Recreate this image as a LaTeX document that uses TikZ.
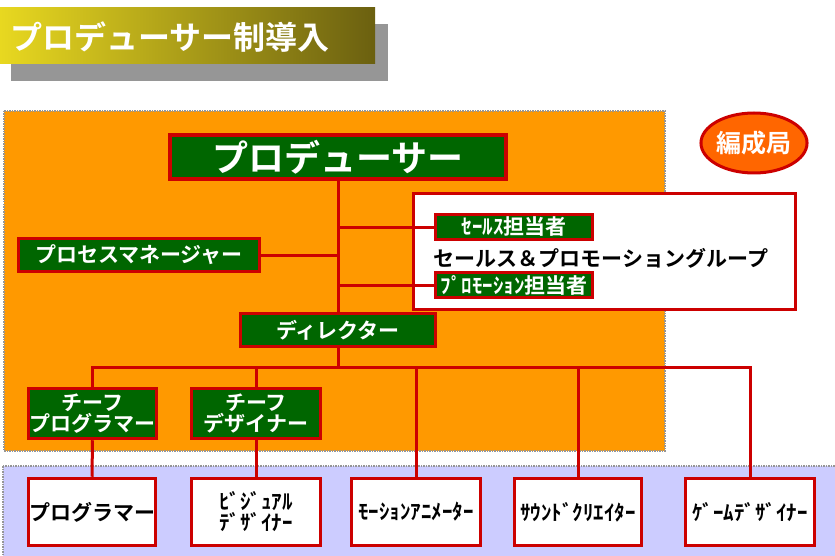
\documentclass[tikz,border=0pt]{standalone}
\usepackage{fontspec}
\setmainfont{Noto Sans CJK JP}[BoldFont={Noto Sans CJK JP Bold}]
\usetikzlibrary{shapes.geometric}
\definecolor{bgorange}{HTML}{FF9900}
\definecolor{bglilac}{HTML}{CCCCFF}
\definecolor{boxgreen}{HTML}{006600}
\definecolor{linered}{HTML}{CC0000}
\definecolor{ovalorange}{HTML}{FF6600}
\definecolor{shadowgray}{HTML}{969696}
\definecolor{titleyellow}{HTML}{E8D820}
\definecolor{titleolive}{HTML}{6B6010}
\newcommand{\fsz}[1]{\bfseries\fontsize{#1}{#1}\selectfont}

\begin{document}
\begin{tikzpicture}[x=1pt, y=-1pt,
    greenbox/.style={draw=linered, line width=3.5pt, fill=boxgreen, text=white,
      inner sep=0pt, align=center, font=\fsz{21}},
    whitebox/.style={draw=linered, line width=3.5pt, fill=white, text=black,
      inner sep=0pt, align=center, font=\fsz{21}},
    link/.style={draw=linered, line width=3pt},
    region/.style={draw=shadowgray, densely dotted, line width=1.5pt}]
  \useasboundingbox (0,0) rectangle (835,556);
  \clip (0,0) rectangle (835,556);
  %tikz  areas
  \fill[bgorange] (4,111) rectangle (665,451);
  \draw[region] (4,111) rectangle (665,451);
  \fill[bglilac] (3,466) rectangle (845,566);
  \draw[region] (3,466) rectangle (845,566);
  % title
  \fill[shadowgray] (11,24) rectangle (388,81);
  \shade[left color=titleyellow, right color=titleolive] (0,8) rectangle (375,64);
  \node[anchor=west, text=white, font=\fsz{32}, inner sep=0pt] (title) at (10,37) {プロデューサー制導入};
  \node[ellipse, draw=linered, line width=3pt, fill=ovalorange, text=white,
    minimum width=102, minimum height=60, inner sep=0pt, font=\fsz{25}] (bureau) at (754,143) {編成局};
  % upper part
  \node[greenbox, line width=4pt, minimum width=336, minimum height=44, font=\fsz{36}] (prod) at (338,157) {プロデューサー};
  \node[greenbox, minimum width=241, minimum height=33] (pm) at (139,255) {プロセスマネージャー};
  \node[whitebox, line width=3pt, minimum width=382, minimum height=116] (group) at (604.5,251.5) {};
  \node[greenbox, minimum width=157, minimum height=25] (sales) at (514,227) {ｾｰﾙｽ担当者};
  \node[font=\fsz{21}, inner sep=0pt] (grouptext) at (601,258) {セールス＆プロモーショングループ};
  \node[greenbox, minimum width=157, minimum height=25] (promo) at (514,285) {ﾌﾟﾛﾓｰｼｮﾝ担当者};
  \node[greenbox, minimum width=195, minimum height=33] (dir) at (338,330) {ディレクター};
  \node[greenbox, minimum width=128, minimum height=50] (cprog) at (92.5,413.5) {チーフ\\プログラマー};
  \node[greenbox, minimum width=129, minimum height=50] (cdes) at (256,413.5) {チーフ\\デザイナー};
  % lower part
  \node[whitebox, minimum width=127, minimum height=67] (prog) at (92,512) {プログラマー};
  \node[whitebox, minimum width=129, minimum height=67] (vis) at (256,512) {ﾋﾞｼﾞｭｱﾙ\\ﾃﾞｻﾞｲﾅｰ};
  \node[whitebox, minimum width=129, minimum height=67] (motion) at (416,512) {ﾓｰｼｮﾝｱﾆﾒｰﾀｰ};
  \node[whitebox, minimum width=127, minimum height=67] (sound) at (578,512) {ｻｳﾝﾄﾞｸﾘｴｲﾀｰ};
  \node[whitebox, minimum width=129, minimum height=67] (game) at (750,512) {ｹﾞｰﾑﾃﾞｻﾞｲﾅｰ};
  % links
  \coordinate (bus) at (338,367);
  \draw[link] (prod.south) -- (dir.north);
  \draw[link] (pm.east) -- (pm.east -| prod.south);
  \draw[link] (sales.west) -- (sales.west -| prod.south);
  \draw[link] (promo.west) -- (promo.west -| prod.south);
  \draw[link] (dir.south) -- (bus);
  \draw[link] (cprog.north) |- (bus);
  \draw[link] (cdes.north) |- (bus);
  \draw[link] (motion.north) |- (bus);
  \draw[link] (sound.north) |- (bus);
  \draw[link] (game.north) |- (bus);
  \draw[link] (cprog.south) -- (prog.north);
  \draw[link] (cdes.south) -- (vis.north);
\end{tikzpicture}
\end{document}
